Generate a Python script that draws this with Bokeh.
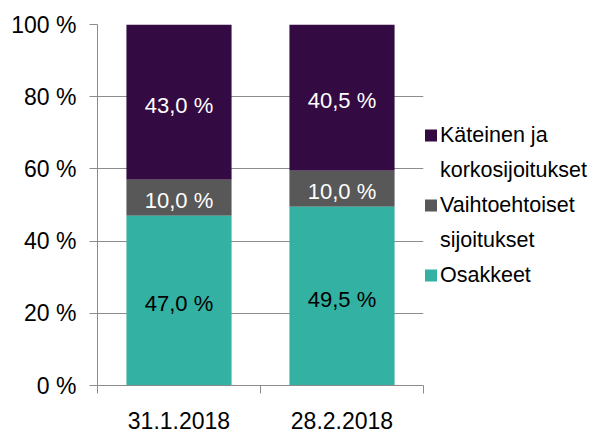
from bokeh.plotting import figure
from bokeh.models import ColumnDataSource, FixedTicker, Legend, LegendItem, Range1d
from bokeh.embed import file_html
from bokeh.resources import INLINE
from bokeh.core.properties import value

categories = ["31.1.2018", "28.2.2018"]
osakkeet = [47.0, 49.5]
vaihtoehtoiset = [10.0, 10.0]
kateinen = [43.0, 40.5]
series_lines = [["Käteinen ja", "korkosijoitukset"], ["Vaihtoehtoiset", "sijoitukset"], ["Osakkeet"]]
y_ticks = [0, 20, 40, 60, 80, 100]

FONT = "Liberation Sans"
C_TEAL = "#33b1a2"
C_GRAY = "#585858"
C_PURPLE = "#330b42"

x = [i + 0.5 for i in range(len(categories))]
b1 = osakkeet
b2 = [a + b for a, b in zip(osakkeet, vaihtoehtoiset)]
b3 = [a + b for a, b in zip(b2, kateinen)]

src = ColumnDataSource(dict(
    x=x, b0=[0] * len(x), b1=b1, b2=b2, b3=b3,
    m1=[v / 2 for v in osakkeet],
    m2=[a + v / 2 for a, v in zip(b1, vaihtoehtoiset)],
    m3=[a + v / 2 for a, v in zip(b2, kateinen)],
    t1=[f"{v:.1f} %".replace(".", ",") for v in osakkeet],
    t2=[f"{v:.1f} %".replace(".", ",") for v in vaihtoehtoiset],
    t3=[f"{v:.1f} %".replace(".", ",") for v in kateinen],
))

p = figure(width=594, height=433, frame_width=326, frame_height=361,
           x_range=Range1d(0, len(categories)), y_range=Range1d(0, 100),
           output_backend="svg", toolbar_location=None,
           min_border_left=97, min_border_right=0, min_border_top=24, min_border_bottom=48)
p.outline_line_color = None
p.background_fill_color = "white"
p.border_fill_color = "white"

bw = 0.645
r3 = p.vbar(x="x", bottom="b2", top="b3", width=bw, source=src, fill_color=C_PURPLE, line_color=None)
r2 = p.vbar(x="x", bottom="b1", top="b2", width=bw, source=src, fill_color=C_GRAY, line_color=None)
r1 = p.vbar(x="x", bottom="b0", top="b1", width=bw, source=src, fill_color=C_TEAL, line_color=None)
# invisible glyph for legend continuation lines
r_blank = p.vbar(x=[], top=[], width=bw, fill_alpha=0, line_alpha=0)

for m, t, col in (("m1", "t1", "black"), ("m2", "t2", "white"), ("m3", "t3", "white")):
    p.text(x="x", y=m, text=t, source=src, text_color=col, text_align="center",
           text_baseline="middle", text_font=value(FONT), text_font_size="22px", y_offset=3)

# y axis
p.yaxis.ticker = FixedTicker(ticks=y_ticks)
p.yaxis.major_label_overrides = {t: f"{t} %" for t in y_ticks}
p.yaxis.major_tick_in = 0
p.yaxis.major_tick_out = 8
p.yaxis.minor_tick_line_color = None
p.yaxis.axis_line_color = "#8c8c8c"
p.yaxis.major_tick_line_color = "#8c8c8c"
p.yaxis.major_label_text_font = FONT
p.yaxis.major_label_text_font_size = "23px"
p.yaxis.major_label_text_color = "black"
p.yaxis.major_label_standoff = 13

# x axis
p.xaxis.ticker = FixedTicker(ticks=x, minor_ticks=[0, 1, 2])
p.xaxis.major_label_overrides = {xi: c for xi, c in zip(x, categories)}
p.xaxis.major_tick_line_color = None
p.xaxis.minor_tick_in = 0
p.xaxis.minor_tick_out = 8
p.xaxis.minor_tick_line_color = "#8c8c8c"
p.xaxis.axis_line_color = "#8c8c8c"
p.xaxis.major_label_text_font = FONT
p.xaxis.major_label_text_font_size = "23px"
p.xaxis.major_label_text_color = "black"
p.xaxis.major_label_standoff = 18

p.xgrid.grid_line_color = None
p.ygrid.ticker = FixedTicker(ticks=y_ticks)
p.ygrid.grid_line_color = "#8c8c8c"
p.ygrid.grid_line_width = 1

items = []
for lines, r in zip(series_lines, [r3, r2, r1]):
    for i, line in enumerate(lines):
        items.append(LegendItem(label=line, renderers=[r if i == 0 else r_blank]))

legend = Legend(items=items,
                location="left", border_line_color=None, background_fill_alpha=0,
                label_text_font=FONT, label_text_font_size="21.5px", label_text_color="black",
                glyph_width=15, glyph_height=15, label_standoff=2, spacing=0,
                padding=0, margin=0, label_width=150, label_height=35)
p.add_layout(legend, "right")

open("out.html", "w").write(file_html(p, INLINE))
